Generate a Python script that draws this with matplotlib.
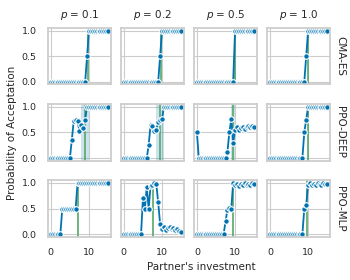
import numpy as np
import matplotlib
matplotlib.use("Agg")
import matplotlib.pyplot as plt

# partner's investment grid and acceptance probabilities
investment = np.arange(0, 15.5, 0.5)

methods = ["CMA-ES", "PPO-DEEP", "PPO-MLP"]
p_values = ["0.1", "0.2", "0.5", "1.0"]

cma_es = [
    [0] * 19 + [0.5] + [1] * 11,
    [0] * 19 + [0.5] + [1] * 11,
    [0] * 20 + [1] * 11,
    [0] * 19 + [0.5] + [1] * 11,
]
ppo_deep = [
    [0] * 11 + [0.35, 0.72, 0.74, 0.73, 0.52, 0.65, 0.58, 0.75] + [1] * 12,
    [0] * 13 + [0.25, 0.65, 0.62, 0.52, 0.55, 0.7, 0.74, 0.76] + [1] * 10,
    [0.5] + [0] * 15 + [0.12, 0.5, 0.76, 0.3,
                        0.55, 0.6, 0.55, 0.58, 0.6, 0.57, 0.6, 0.62, 0.6, 0.63, 0.6],
    [0] * 18 + [0.5, 0.75] + [1] * 11,
]
ppo_mlp = [
    [0] * 6 + [0.5] * 8 + [1] * 17,
    [0] * 10 + [0.7, 0.5, 0.92, 0.5, 0.95, 0.97, 1.0, 0.98, 0.62, 0.2,
                0.1, 0.15, 0.08, 0.12, 0.15, 0.1, 0.12, 0.08, 0.1, 0.07, 0.05],
    [0] * 15 + [0.25, 0.48, 0.52, 0.5,
                1.0, 0.96, 0.99, 0.95, 0.98, 0.97, 1.0, 0.96, 0.99, 0.97, 1.0, 0.98],
    [0] * 18 + [0.5, 0.57, 0.97, 1.0, 0.96, 0.99, 0.97, 1.0, 0.98, 0.96, 1.0, 0.98, 0.99],
]
acceptance = [cma_es, ppo_deep, ppo_mlp]

# mean learned threshold (green) and its spread (shaded)
threshold = [
    [9.7, 9.8, 10.0, 9.9],
    [9.0, 9.5, 9.5, 10.0],
    [7.0, 7.6, 9.4, 9.7],
]
threshold_std = [
    [0, 0, 0, 0],
    [1.1, 1.1, 0.45, 0.1],
    [0, 0, 0, 0],
]

blue = "#0173b2"
green = "#55a868"

plt.rcParams["font.family"] = "DejaVu Sans"
fig, axes = plt.subplots(3, 4, figsize=(3.5, 2.8), dpi=100, sharex=True, sharey=True)
fig.subplots_adjust(left=0.137, right=0.943, top=0.9, bottom=0.154, wspace=0.16, hspace=0.35)

for r in range(3):
    for c in range(4):
        ax = axes[r, c]
        ax.set_facecolor("white")
        ax.grid(True, color="0.8", lw=0.8)
        ax.set_axisbelow(True)
        for s in ax.spines.values():
            s.set_color("0.8")
            s.set_linewidth(1.25)
        if threshold_std[r][c] > 0:
            ax.axvspan(threshold[r][c] - threshold_std[r][c], threshold[r][c] + threshold_std[r][c],
                       color=blue, alpha=0.2, lw=0)
        ax.axvline(threshold[r][c], color=green, lw=1.2)
        ax.plot(investment, acceptance[r][c], color=blue, lw=1.3, marker="o", ms=4,
                mec="white", mew=0.8)
        ax.set_xlim(-0.75, 15.75)
        ax.set_ylim(-0.05, 1.05)
        ax.set_xticks([0, 10])
        ax.set_yticks([0, 0.5, 1.0])
        ax.set_yticklabels(["0.0", "0.5", "1.0"])
        ax.tick_params(length=0, pad=8, labelsize=6.8, colors="0.15")
        if r == 0:
            ax.set_title("$p$ = " + p_values[c], fontsize=7.5, pad=7, color="0.15")
        if c == 3:
            ax.text(1.08, 0.5, methods[r], transform=ax.transAxes, rotation=-90,
                    ha="left", va="center", fontsize=7.5, color="0.15")

fig.text(0.034, 0.527, "Probability of Acceptation", rotation=90, ha="center", va="center",
         fontsize=7.5, color="0.15")
fig.text(0.574, 0.045, "Partner's investment", ha="center", va="center",
         fontsize=7.5, color="0.15")

fig.savefig("out.png", dpi=100)
